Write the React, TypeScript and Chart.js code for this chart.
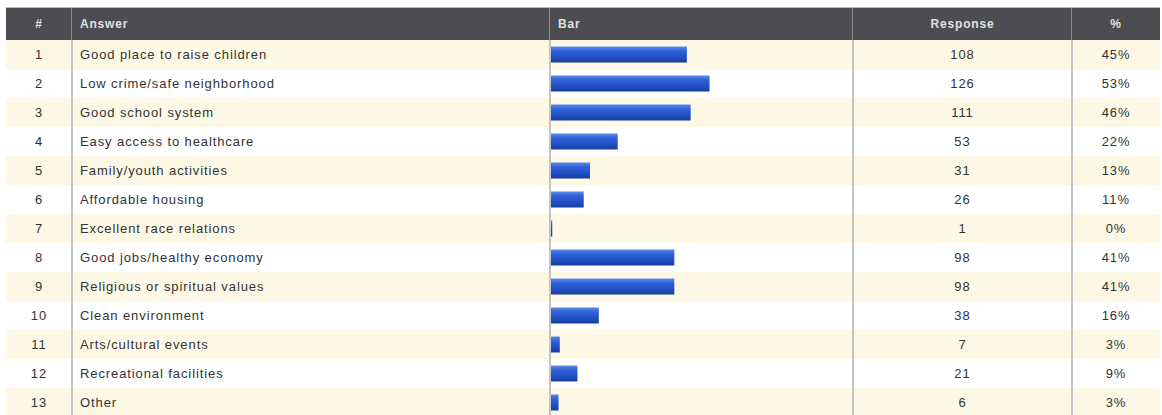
import React, { useEffect, useRef } from "react";
import { Chart, registerables } from "chart.js";

Chart.register(...registerables);

const rowNumbers = ["1", "2", "3", "4", "5", "6", "7", "8", "9", "10", "11", "12", "13"];
const answers = [
  "Good place to raise children",
  "Low crime/safe neighborhood",
  "Good school system",
  "Easy access to healthcare",
  "Family/youth activities",
  "Affordable housing",
  "Excellent race relations",
  "Good jobs/healthy economy",
  "Religious or spiritual values",
  "Clean environment",
  "Arts/cultural events",
  "Recreational facilities",
  "Other",
];
const responses = [108, 126, 111, 53, 31, 26, 1, 98, 98, 38, 7, 21, 6];
const percents = ["45%", "53%", "46%", "22%", "13%", "11%", "0%", "41%", "41%", "16%", "3%", "9%", "3%"];
const headers = ["#", "Answer", "Bar", "Response", "%"];
const totalRespondents = 240;

const LEFT = 6;
const TOP = 7;
const HEADER_H = 32;
const ROW_H = 29;
const COLS = [66, 478, 303, 219, 88];

const FONT = "'Liberation Sans', Arial, sans-serif";

function BarChart() {
  const ref = useRef<HTMLCanvasElement | null>(null);
  useEffect(() => {
    const canvas = ref.current!;
    const pc = document.createElement("canvas");
    pc.width = 4;
    pc.height = ROW_H;
    const pctx = pc.getContext("2d")!;
    const bh = ROW_H * 0.55;
    const top = (ROW_H - bh) / 2;
    const g = pctx.createLinearGradient(0, top, 0, top + bh);
    g.addColorStop(0, "#5a88ea");
    g.addColorStop(0.3, "#2d60d8");
    g.addColorStop(0.75, "#1f4cbc");
    g.addColorStop(1, "#173c9c");
    pctx.fillStyle = g;
    pctx.fillRect(0, 0, 4, ROW_H);
    const pattern = canvas.getContext("2d")!.createPattern(pc, "repeat");

    const chart = new Chart(canvas, {
      type: "bar",
      data: {
        labels: answers,
        datasets: [
          {
            data: responses,
            backgroundColor: pattern as any,
            borderWidth: 0,
            barPercentage: 0.55,
            categoryPercentage: 1,
          },
        ],
      },
      options: {
        indexAxis: "y",
        animation: false,
        responsive: false,
        maintainAspectRatio: false,
        layout: { padding: 0 },
        plugins: { legend: { display: false }, tooltip: { enabled: false } },
        scales: {
          x: { display: false, min: 0, max: totalRespondents },
          y: { display: false },
        },
      },
    });
    return () => chart.destroy();
  }, []);
  return (
    <canvas
      ref={ref}
      width={COLS[2] - 1}
      height={ROW_H * answers.length}
      style={{ position: "absolute", left: COLS[0] + COLS[1] + 1, top: HEADER_H, display: "block" }}
    />
  );
}

export default function App() {
  const xs: number[] = [];
  let acc = 0;
  for (const w of COLS) {
    xs.push(acc);
    acc += w;
  }
  const totalW = acc;
  const bodyH = ROW_H * answers.length;
  const cellBase: React.CSSProperties = {
    position: "absolute",
    height: ROW_H,
    lineHeight: ROW_H + "px",
    fontSize: 13,
    letterSpacing: "0.9px",
    color: "#333333",
    whiteSpace: "nowrap",
  };
  return (
    <div
      style={{
        position: "absolute",
        left: LEFT,
        top: TOP,
        width: totalW,
        height: HEADER_H + bodyH,
        fontFamily: FONT,
        overflow: "hidden",
        borderTop: "1px solid #bbb",
        boxSizing: "border-box",
      }}
    >
      {/* header */}
      <div style={{ position: "absolute", left: 0, top: 0, width: totalW, height: HEADER_H, background: "#4d4c51" }} />
      {headers.map((h, i) => (
        <div
          key={h}
          style={{
            position: "absolute",
            left: xs[i] + (i === 1 || i === 2 ? 8 : 0),
            width: COLS[i] - (i === 1 || i === 2 ? 8 : 0),
            top: 0,
            height: HEADER_H,
            lineHeight: HEADER_H + "px",
            textAlign: i === 1 || i === 2 ? "left" : "center",
            color: "#e0e0e0",
            fontWeight: "bold",
            fontSize: 12,
            letterSpacing: "0.8px",
          }}
        >
          {h}
        </div>
      ))}
      {/* rows */}
      {answers.map((a, r) => (
        <div
          key={"row" + r}
          style={{
            position: "absolute",
            left: 0,
            top: HEADER_H + r * ROW_H,
            width: totalW,
            height: ROW_H,
            background: r % 2 === 0 ? "#fdf8e6" : "#ffffff",
          }}
        />
      ))}
      {answers.map((a, r) => (
        <React.Fragment key={"txt" + r}>
          <div style={{ ...cellBase, left: xs[0], width: COLS[0], top: HEADER_H + r * ROW_H, textAlign: "center" }}>
            {rowNumbers[r]}
          </div>
          <div style={{ ...cellBase, left: xs[1] + 8, top: HEADER_H + r * ROW_H }}>{a}</div>
          <div style={{ ...cellBase, left: xs[3], width: COLS[3], top: HEADER_H + r * ROW_H, textAlign: "center" }}>
            {responses[r]}
          </div>
          <div style={{ ...cellBase, left: xs[4], width: COLS[4], top: HEADER_H + r * ROW_H, textAlign: "center" }}>
            {percents[r]}
          </div>
        </React.Fragment>
      ))}
      {/* column separators */}
      {[1, 2, 3, 4].map((i) => (
        <React.Fragment key={"sep" + i}>
          <div style={{ position: "absolute", left: xs[i] - 1, top: 0, width: 1, height: HEADER_H, background: "#8a8a8e" }} />
          <div style={{ position: "absolute", left: xs[i] - 1, top: HEADER_H, width: 2, height: bodyH, background: "#c4c4c4" }} />
        </React.Fragment>
      ))}
      <BarChart />
    </div>
  );
}
